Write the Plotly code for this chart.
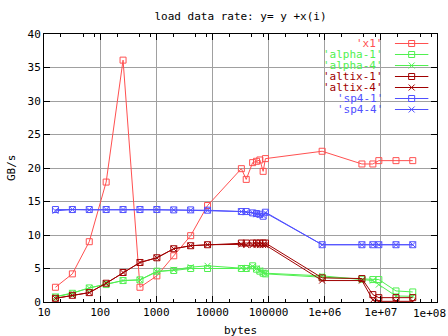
import plotly.graph_objects as go

# message sizes in bytes
sizes = [16, 32, 64, 128, 256, 512, 1024, 2048, 4096, 8192,
         32768, 40000, 52000, 61000, 70000, 80000, 88000,
         900000, 4600000, 7200000, 9200000, 18600000, 37000000]

# bandwidth in GB/s
x1 = [2.2, 4.2, 9.0, 17.9, 36.1, 2.2, 3.9, 6.9, 9.9, 14.4,
      19.9, 18.3, 20.8, 21.0, 21.2, 19.5, 21.4,
      22.5, 20.6, 20.6, 21.1, 21.1, 21.1]
alpha_1 = [0.75, 1.3, 2.1, 2.6, 3.2, 3.3, 4.6, 4.7, 5.0, 5.0,
           5.0, 5.0, 5.4, 4.9, 4.6, 4.3, 4.2,
           3.7, 3.4, 3.35, 3.35, 1.65, 1.5]
alpha_4 = [0.8, 1.35, 2.1, 2.7, 3.2, 3.3, 4.5, 4.8, 5.2, 5.4,
           5.1, 5.0, 5.3, 5.0, 4.7, 4.4, 4.3,
           3.9, 3.3, 3.2, 2.6, 0.9, 0.85]
altix_1 = [0.55, 1.0, 1.4, 2.8, 4.4, 5.9, 6.6, 7.95, 8.4, 8.55,
           8.8, 8.8, 8.8, 8.8, 8.8, 8.8, 8.8,
           3.6, 3.5, 1.1, 0.65, 0.65, 0.65]
altix_4 = [0.55, 1.0, 1.4, 2.8, 4.4, 5.9, 6.6, 7.95, 8.4, 8.55,
           8.6, 8.5, 8.5, 8.5, 8.5, 8.5, 8.5,
           3.2, 3.2, 0.3, 0.1, 0.1, 0.1]
sp4_1 = [13.8, 13.8, 13.8, 13.8, 13.8, 13.8, 13.8, 13.75, 13.75, 13.7,
         13.5, 13.5, 13.3, 13.2, 13.1, 12.8, 13.4,
         8.55, 8.55, 8.55, 8.55, 8.55, 8.55]
sp4_4 = [13.6, 13.8, 13.75, 13.8, 13.8, 13.8, 13.8, 13.75, 13.7, 13.7,
         13.5, 13.4, 13.3, 13.1, 13.0, 12.9, 13.3,
         8.55, 8.55, 8.55, 8.55, 8.55, 8.55]

x_tickvals = [10, 100, 1000, 10000, 100000, 1e6, 1e7]
x_ticktext = ["10", "100", "1000", "10000", "100000", "1e+06", "1e+07"]
x_end_label = "1e+08"
y_tickvals = [0, 5, 10, 15, 20, 25, 30, 35, 40]

LIGHT_RED = "#ff5050"
GREEN = "#50f050"
DARK_RED = "#a00000"
BLUE = "#5050ff"

series = [
    ("'x1'", x1, LIGHT_RED, "square-open"),
    ("'alpha-1'", alpha_1, GREEN, "square-open"),
    ("'alpha-4'", alpha_4, GREEN, "x-thin-open"),
    ("'altix-1'", altix_1, DARK_RED, "square-open"),
    ("'altix-4'", altix_4, DARK_RED, "x-thin-open"),
    ("'sp4-1'", sp4_1, BLUE, "square-open"),
    ("'sp4-4'", sp4_4, BLUE, "x-thin-open"),
]

FONT = "DejaVu Sans Mono"

fig = go.Figure()
for name, vals, color, sym in series:
    fig.add_trace(go.Scatter(
        x=sizes, y=vals, mode="lines+markers", name=name,
        line=dict(color=color, width=1),
        marker=dict(symbol=sym, size=6, color=color, line=dict(width=1, color=color)),
        showlegend=False,
    ))

# key drawn in the upper right corner: label, then a line sample with its marker
key_x_text = 0.866
key_x0, key_x1 = 0.893, 0.978
key_rows = [1 - (43.5 - 34 + 11 * i) / 268 for i in range(len(series))]
shapes = [dict(type="rect", xref="paper", yref="paper", x0=0.712, x1=0.992,
               y0=0.695, y1=0.996, fillcolor="white", line=dict(width=0), layer="below")]
annotations = []
for (name, vals, color, sym), ky in zip(series, key_rows):
    annotations.append(dict(xref="paper", yref="paper", x=key_x_text, y=ky, text=name,
                            showarrow=False, xanchor="right", yanchor="middle",
                            height=11, valign="middle", borderpad=0,
                            font=dict(family=FONT, size=11, color=color)))
    shapes.append(dict(type="line", xref="paper", yref="paper", x0=key_x0, x1=key_x1,
                       y0=ky, y1=ky, line=dict(color=color, width=1)))
    fig.add_trace(go.Scatter(
        x=[(key_x0 + key_x1) / 2], y=[ky], xaxis="x2", yaxis="y2", mode="markers",
        marker=dict(symbol=sym, size=6, color=color, line=dict(width=1, color=color)),
        showlegend=False, hoverinfo="skip",
    ))

# label for the last decade, kept inside the page at its right edge
annotations.append(dict(xref="paper", yref="paper", x=(447 - 44) / 393, y=(302 - 313) / 268,
                        text=x_end_label, showarrow=False, xanchor="right", yanchor="middle",
                        borderpad=0, font=dict(family=FONT, size=11, color="black")))
annotations.append(dict(xref="paper", yref="paper", x=0.5, y=(302 - 330) / 268, text="bytes",
                        showarrow=False, xanchor="center", yanchor="middle",
                        font=dict(family=FONT, size=11, color="black")))
annotations.append(dict(xref="paper", yref="paper", x=(11 - 44) / 393, y=0.5, text="GB/s",
                        showarrow=False, xanchor="center", yanchor="middle", textangle=-90,
                        font=dict(family=FONT, size=11, color="black")))

minor_vals = []
for d in range(1, 8):
    for m in (2, 5, 8):
        minor_vals.append(m * 10 ** d)

fig.update_layout(
    width=448, height=336,
    margin=dict(l=44, r=11, t=34, b=34, autoexpand=False),
    paper_bgcolor="white", plot_bgcolor="white",
    font=dict(family=FONT, size=11, color="black"),
    title=dict(text="load data rate: y= y +x(i)", x=0.5, xref="paper",
               y=1 - 16 / 336, yref="container", xanchor="center", yanchor="middle",
               font=dict(family=FONT, size=11, color="black")),
    xaxis=dict(type="log", range=[1, 8], tickvals=x_tickvals, ticktext=x_ticktext,
               showgrid=True, gridcolor="#a0a0a0", gridwidth=1,
               showline=True, linecolor="black", linewidth=1, mirror="ticks",
               ticks="inside", ticklen=6, tickcolor="black", automargin=False,
               minor=dict(tickvals=minor_vals, ticks="inside", ticklen=3,
                          tickcolor="black", showgrid=False),
               zeroline=False, fixedrange=True),
    yaxis=dict(range=[0, 40], tickvals=y_tickvals,
               showgrid=True, gridcolor="#a0a0a0", gridwidth=1,
               showline=True, linecolor="black", linewidth=1, mirror="ticks",
               ticks="inside", ticklen=6, tickcolor="black", automargin=False,
               zeroline=False, fixedrange=True),
    xaxis2=dict(overlaying="x", range=[0, 1], visible=False, fixedrange=True),
    yaxis2=dict(overlaying="y", range=[0, 1], visible=False, fixedrange=True),
    shapes=shapes,
    annotations=annotations,
)

fig.write_html("out.html")
